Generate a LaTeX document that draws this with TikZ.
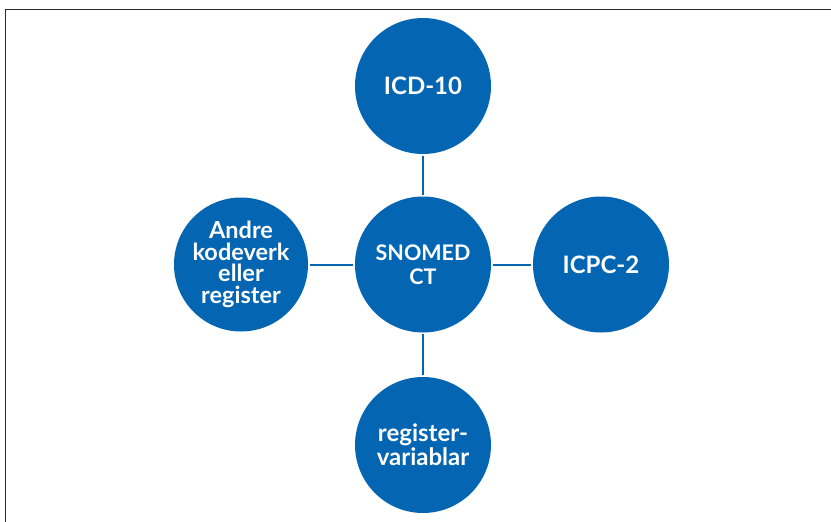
\documentclass[tikz,border=0pt]{standalone}
\usepackage{fontspec}
\setmainfont{Lato}
\usetikzlibrary{shapes}
\usepackage{xcolor}

\definecolor{codeblue}{RGB}{4,101,178}
\definecolor{framegray}{RGB}{42,42,42}

\begin{document}
\begin{tikzpicture}[x=1pt, y=-1pt]
	\tikzstyle{codenode}=[
	circle,
	fill=codeblue,
	text=white,
	font=\bfseries\fontsize{24}{24}\selectfont,
	align=center,
	inner sep=0pt,
	minimum size=136pt
	]
	\tikzstyle{link}=[
	draw=codeblue,
	line width=2pt,
	shorten <=1.5pt,
	shorten >=1.5pt
	]
	\useasboundingbox (0,0) rectangle (831,522);
	% frame, only top and left edge are visible
	\draw[framegray, line width=1.5pt] (5.5,540) -- (5.5,9.5) -- (850,9.5);
	\node[codenode, font=\bfseries\fontsize{21.5}{24}\selectfont] (snomed) at (423,264.5) {SNOMED\\CT};
	\node[codenode] (icd) at (423,86) {ICD-10};
	\node[codenode] (icpc) at (601,264.5) {ICPC-2};
	\node[codenode, font=\bfseries\fontsize{24}{24}\selectfont] (variablar) at (423,445) {register-\\variablar};
	\node[codenode, minimum size=134pt, font=\bfseries\fontsize{23.5}{21.5}\selectfont] (andre) at (241,264.5) {Andre\\kodeverk\\eller\\register};
	\path[link] (icd) -- (snomed);
	\path[link] (snomed) -- (icpc);
	\path[link] (snomed) -- (variablar);
	\path[link] (andre) -- (snomed);
\end{tikzpicture}
\end{document}
